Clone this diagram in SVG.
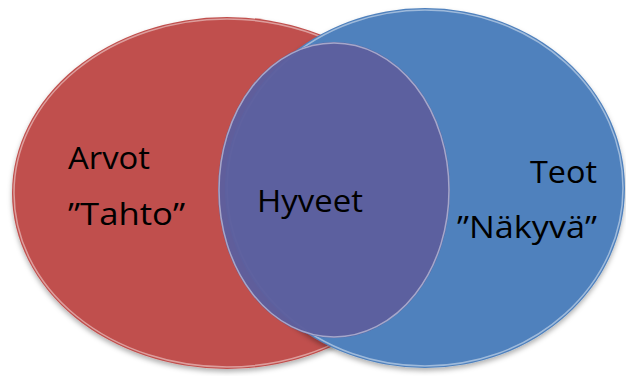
<svg xmlns="http://www.w3.org/2000/svg" width="626" height="376" viewBox="0 0 626 376">
  <style>
    .lbl { font-family: "Open Sans", "Liberation Sans", sans-serif; font-size: 31px; fill: #000; }
    .edge { fill: none; stroke: #ffffff; stroke-opacity: 0.45; stroke-width: 1.5; }
  </style>
  <defs>
    <filter id="sh" x="-10%" y="-10%" width="120%" height="125%">
      <feDropShadow dx="0" dy="3" stdDeviation="2.5" flood-color="#000" flood-opacity="0.3"/>
    </filter>
  </defs>
  <rect width="626" height="376" fill="#ffffff"/>
  <g id="arvot">
    <ellipse cx="227" cy="193" rx="215" ry="176" fill="#C0504D" filter="url(#sh)"/>
    <ellipse class="edge" cx="227" cy="193" rx="213" ry="174"/>
  </g>
  <g id="teot">
    <ellipse cx="425" cy="188" rx="200" ry="180" fill="#4F81BD" filter="url(#sh)"/>
    <ellipse class="edge" cx="425" cy="188" rx="198" ry="178"/>
  </g>
  <g id="hyveet">
    <ellipse cx="334" cy="190" rx="116" ry="148" fill="#5D5F9E" fill-opacity="0.97"/>
    <ellipse class="edge" cx="334" cy="190" rx="115" ry="147"/>
  </g>
  <g id="labels">
    <text class="lbl" x="68" y="169" textLength="82" lengthAdjust="spacingAndGlyphs">Arvot</text>
    <text class="lbl" x="68" y="225" textLength="117" lengthAdjust="spacingAndGlyphs">”Tahto”</text>
    <text class="lbl" x="257" y="212" textLength="106" lengthAdjust="spacingAndGlyphs">Hyveet</text>
    <text class="lbl" x="530" y="183" textLength="67" lengthAdjust="spacingAndGlyphs">Teot</text>
    <text class="lbl" x="457" y="238" textLength="140" lengthAdjust="spacingAndGlyphs">”Näkyvä”</text>
  </g>
</svg>
